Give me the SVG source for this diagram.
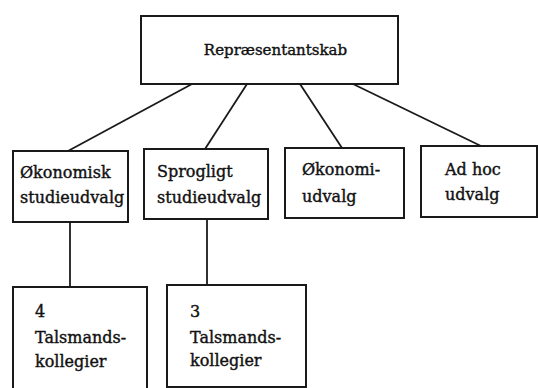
<svg xmlns="http://www.w3.org/2000/svg" width="538" height="388" viewBox="0 0 538 388">
<style>
.box{fill:#fff;stroke:#1a1a1a;stroke-width:2}
.c{fill:none;stroke:#1a1a1a;stroke-width:1.8}
text{font-family:"DejaVu Serif","Liberation Serif",serif;font-size:16px;fill:#111;stroke:#111;stroke-width:0.4}
.t{font-size:15px}
</style>
<rect width="538" height="388" fill="#fff"/>
<g id="connectors">
<line class="c" x1="192" y1="84" x2="68" y2="151"/>
<line class="c" x1="247" y1="84" x2="205" y2="149"/>
<line class="c" x1="300" y1="84" x2="342" y2="148"/>
<line class="c" x1="353" y1="84" x2="481" y2="146"/>
<line class="c" x1="70" y1="222" x2="70" y2="287"/>
<line class="c" x1="207" y1="219" x2="207" y2="285"/>
</g>
<g id="n0">
<rect class="box" x="141" y="16" width="257" height="68"/>
<text class="t" x="275.5" y="55" text-anchor="middle">Repræsentantskab</text>
</g>
<g id="n1">
<rect class="box" x="13" y="151" width="115" height="71"/>
<text x="20" y="178">Økonomisk</text>
<text x="20" y="203">studieudvalg</text>
</g>
<g id="n2">
<rect class="box" x="144" y="149" width="124" height="70"/>
<text x="157" y="177">Sprogligt</text>
<text x="157" y="203">studieudvalg</text>
</g>
<g id="n3">
<rect class="box" x="285" y="148" width="119" height="70"/>
<text x="302" y="175">Økonomi-</text>
<text x="302" y="202">udvalg</text>
</g>
<g id="n4">
<rect class="box" x="421" y="146" width="116" height="71"/>
<text x="445" y="175">Ad hoc</text>
<text x="445" y="200">udvalg</text>
</g>
<g id="n5">
<rect class="box" x="13" y="287" width="134" height="110"/>
<text x="35" y="317">4</text>
<text x="35" y="343">Talsmands-</text>
<text x="35" y="367">kollegier</text>
</g>
<g id="n6">
<rect class="box" x="167" y="285" width="139" height="102"/>
<text x="190" y="317">3</text>
<text x="190" y="343">Talsmands-</text>
<text x="190" y="366">kollegier</text>
</g>
</svg>
